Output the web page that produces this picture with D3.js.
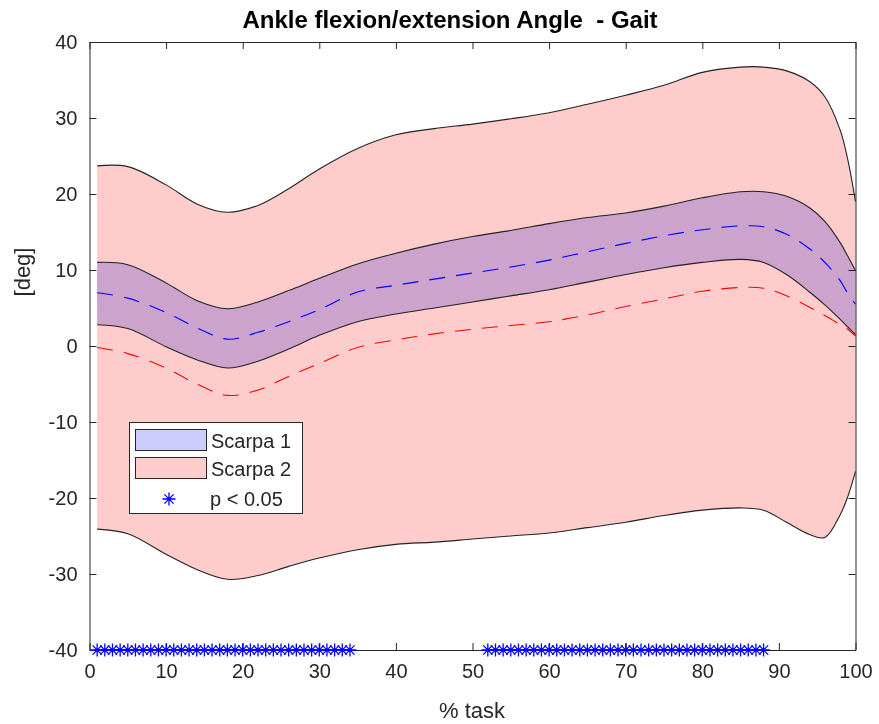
<!DOCTYPE html>
<html>
<head>
<meta charset="utf-8">
<script src="https://cdn.jsdelivr.net/npm/d3@7"></script>
<style>
  body { margin: 0; background: #fff; }
  text { font-family: "Liberation Sans", Arial, Helvetica, sans-serif; }
</style>
</head>
<body>
<div class="canvas"></div>
<script>
// data
var pctTask = [1, 5, 10, 14, 18, 22, 26, 30, 35, 40, 45, 50, 55, 60, 65, 70, 75, 80, 85, 88, 91, 94, 96, 98, 99, 100];

// Scarpa 2 (pink) mean +/- sd
var scarpa2Upper = [23.7, 23.6, 21.2, 18.7, 17.6, 18.5, 20.7, 23.3, 26.0, 27.8, 28.6, 29.2, 29.9, 30.7, 31.8, 33.0, 34.3, 36.0, 36.7, 36.7, 36.2, 34.8, 32.8, 28.4, 24.5, 19.0];
var scarpa2Mean  = [-0.2, -1.0, -2.9, -5.0, -6.5, -5.8, -4.0, -2.3, -0.2, 0.8, 1.6, 2.2, 2.7, 3.2, 4.1, 5.2, 6.2, 7.2, 7.7, 7.6, 6.6, 5.1, 4.0, 2.8, 2.2, 1.3];
var scarpa2Lower = [-24.1, -24.7, -27.4, -29.4, -30.7, -30.2, -29.0, -27.9, -26.8, -26.1, -25.8, -25.4, -25.0, -24.6, -23.9, -23.2, -22.3, -21.6, -21.3, -21.6, -23.2, -24.8, -25.2, -22.2, -19.8, -16.5];

// Scarpa 1 (blue) mean +/- sd
var scarpa1Upper = [11.0, 10.7, 8.3, 6.0, 4.9, 5.8, 7.3, 8.9, 10.8, 12.2, 13.4, 14.4, 15.2, 16.1, 16.9, 17.5, 18.4, 19.5, 20.3, 20.3, 19.7, 18.2, 16.4, 13.6, 11.8, 9.9];
var scarpa1Mean  = [7.0, 6.3, 4.4, 2.4, 0.9, 1.8, 3.2, 4.8, 7.1, 8.0, 8.8, 9.6, 10.4, 11.3, 12.4, 13.5, 14.5, 15.3, 15.8, 15.7, 14.7, 12.8, 11.0, 8.6, 6.9, 5.5];
var scarpa1Lower = [2.8, 2.3, -0.1, -1.8, -2.9, -2.0, -0.4, 1.4, 3.2, 4.2, 5.0, 5.8, 6.6, 7.4, 8.4, 9.4, 10.3, 11.0, 11.4, 11.0, 9.4, 7.1, 5.4, 3.5, 2.5, 1.5];

// p < 0.05 stretches (sample index ranges)
var sigRanges = [[1, 34], [52, 88]];

var xTicks = [0, 10, 20, 30, 40, 50, 60, 70, 80, 90, 100];
var yTicks = [-40, -30, -20, -10, 0, 10, 20, 30, 40];

var width = 879, height = 724;
var svg = d3.select(".canvas").append("svg")
  .attr("width", width)
  .attr("height", height);

var x = d3.scaleLinear().domain([0, 100]).range([89.5, 855.5]);
var y = d3.scaleLinear().domain([-40, 40]).range([650, 42]);

var idx = d3.range(pctTask.length);
var curve = d3.curveCatmullRom.alpha(0.5);

function band(lo, hi) {
  return d3.area().curve(curve)
    .x(function(i) { return x(pctTask[i]); })
    .y0(function(i) { return y(lo[i]); })
    .y1(function(i) { return y(hi[i]); });
}
function line(v) {
  return d3.line().curve(curve)
    .x(function(i) { return x(pctTask[i]); })
    .y(function(i) { return y(v[i]); });
}

// bands
svg.append("path").attr("d", band(scarpa2Lower, scarpa2Upper)(idx))
  .attr("fill", "#ffcccc");
svg.append("path").attr("d", band(scarpa1Lower, scarpa1Upper)(idx))
  .attr("fill", "#ccccff").style("mix-blend-mode", "multiply");

// band edges
[scarpa2Upper, scarpa2Lower, scarpa1Upper, scarpa1Lower].forEach(function(v) {
  svg.append("path").attr("d", line(v)(idx))
    .attr("fill", "none").attr("stroke", "#222").attr("stroke-width", 1.1);
});

// means
svg.append("path").attr("d", line(scarpa2Mean)(idx))
  .attr("fill", "none").attr("stroke", "#ff0000").attr("stroke-width", 1.1)
  .attr("stroke-dasharray", "16,11");
svg.append("path").attr("d", line(scarpa1Mean)(idx))
  .attr("fill", "none").attr("stroke", "#0000ff").attr("stroke-width", 1.1)
  .attr("stroke-dasharray", "16,11");

// axes (inward ticks, box)
var ink = "#262626";
function styleAxis(g) {
  g.select(".domain").attr("stroke", ink);
  g.selectAll(".tick line").attr("stroke", ink);
  g.selectAll(".tick text").attr("fill", ink).style("font-size", "20px");
}
var plain = function(d) { return String(d); };
svg.append("g").attr("transform", "translate(0," + y(-40) + ")")
  .call(d3.axisBottom(x).tickValues(xTicks).tickFormat(plain).tickSize(-7).tickSizeOuter(0).tickPadding(14))
  .call(styleAxis);
svg.append("g").attr("transform", "translate(0," + y(40) + ")")
  .call(d3.axisTop(x).tickValues(xTicks).tickSize(-7).tickSizeOuter(0).tickFormat(""))
  .call(styleAxis);
svg.append("g").attr("transform", "translate(" + x(0) + ",0)")
  .call(d3.axisLeft(y).tickValues(yTicks).tickFormat(plain).tickSize(-7).tickSizeOuter(0).tickPadding(12))
  .call(styleAxis);
svg.append("g").attr("transform", "translate(" + x(100) + ",0)")
  .call(d3.axisRight(y).tickValues(yTicks).tickSize(-7).tickSizeOuter(0).tickFormat(""))
  .call(styleAxis);

// asterisk marker
function star(r) {
  var a = r * 0.7071;
  return "M" + (-r) + ",0L" + r + ",0M0," + (-r) + "L0," + r +
         "M" + (-a) + "," + (-a) + "L" + a + "," + a +
         "M" + (-a) + "," + a + "L" + a + "," + (-a);
}
var sigX = [];
sigRanges.forEach(function(r) { sigX = sigX.concat(d3.range(r[0], r[1] + 1)); });
svg.append("g").selectAll("path").data(sigX).enter().append("path")
  .attr("transform", function(d) { return "translate(" + x(d) + "," + y(-40) + ")"; })
  .attr("d", star(6.5))
  .attr("stroke", "#0000ff").attr("stroke-width", 1.3).attr("fill", "none");

// labels
svg.append("text").text("Ankle flexion/extension Angle  - Gait")
  .attr("x", 450).attr("y", 28).attr("text-anchor", "middle")
  .style("white-space", "pre")
  .attr("font-weight", "bold").style("font-size", "24px").attr("fill", "#000");
svg.append("text").text("% task")
  .attr("x", 472).attr("y", 718).attr("text-anchor", "middle")
  .style("font-size", "22px").attr("fill", ink);
svg.append("text").text("[deg]")
  .attr("transform", "translate(30,272) rotate(-90)").attr("text-anchor", "middle")
  .style("font-size", "22px").attr("fill", ink);

// legend
var lg = svg.append("g");
lg.append("rect").attr("x", 129.5).attr("y", 422.5).attr("width", 173).attr("height", 91)
  .attr("fill", "#fff").attr("stroke", ink);
lg.append("rect").attr("x", 135.5).attr("y", 429.5).attr("width", 71).attr("height", 21)
  .attr("fill", "#ccccff").attr("stroke", ink);
lg.append("rect").attr("x", 135.5).attr("y", 457.5).attr("width", 71).attr("height", 21)
  .attr("fill", "#ffcccc").attr("stroke", ink);
lg.append("path").attr("transform", "translate(169,499)").attr("d", star(6.5))
  .attr("stroke", "#0000ff").attr("stroke-width", 1.3).attr("fill", "none");
[["Scarpa 1", 441], ["Scarpa 2", 469], ["p < 0.05", 499]].forEach(function(e, i) {
  lg.append("text").text(e[0]).attr("x", i == 2 ? 210 : 211).attr("y", e[1])
    .attr("dy", "0.35em").style("font-size", "20px").attr("fill", ink);
});
</script>
</body>
</html>
